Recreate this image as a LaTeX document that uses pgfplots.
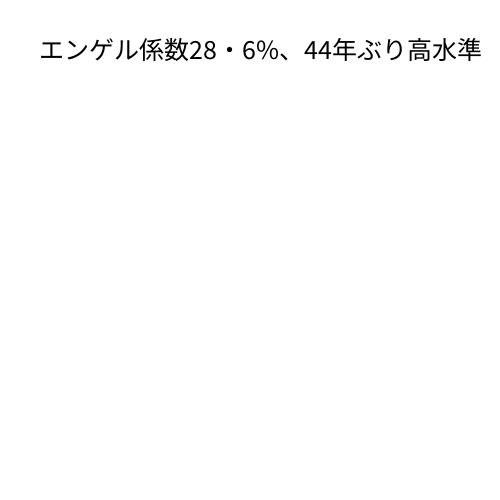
\documentclass[border=0pt]{standalone}
\usepackage{pgfplots}
\pgfplotsset{compat=1.18}
\usepackage{fontspec}
\newfontfamily\cjk{Noto Sans CJK JP}

\begin{document}
\begin{tikzpicture}
% page is 360pt square, i.e. 500 px
\useasboundingbox[fill=white] (0,0) rectangle (360pt,360pt);
\begin{axis}[
    scale only axis,
    width=344pt,
    height=304pt,
    at={(16pt,20pt)},
    anchor=south west,
    hide axis,
    xmin=0, xmax=1,
    ymin=0, ymax=1,
    title={\cjk エンゲル係数28・6\%、44年ぶり高水準},
    title style={at={(0.5,1)}, anchor=center, yshift=-6pt,
        font=\fontsize{18}{22}\selectfont},
]
\addplot[draw=none] coordinates {(0,0) (1,1)};
\end{axis}
\end{tikzpicture}
\end{document}
